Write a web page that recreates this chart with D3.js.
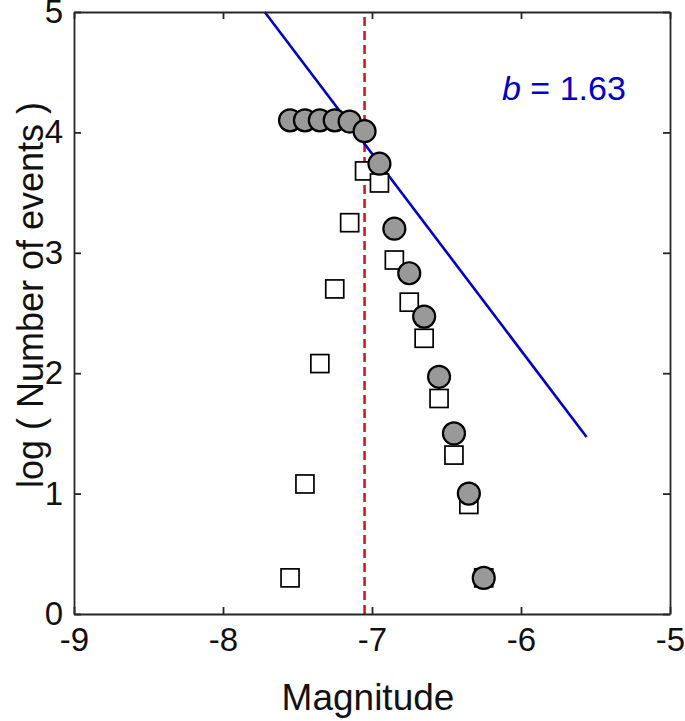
<!DOCTYPE html>
<html>
<head>
<meta charset="utf-8">
<script src="https://cdn.jsdelivr.net/npm/d3@7"></script>
<style>
  body { margin: 0; background: #fff; }
  svg text { font-family: "Liberation Sans", Arial, sans-serif; }
</style>
</head>
<body>
<div class="canvas"></div>
<script>
// magnitude bins
const magnitude = [-7.55, -7.45, -7.35, -7.25, -7.15, -7.05, -6.95, -6.85, -6.75, -6.65, -6.55, -6.45, -6.35, -6.25];
// log of cumulative counts (grey circles)
const cumulativeLog = [4.10, 4.10, 4.10, 4.10, 4.09, 4.01, 3.74, 3.20, 2.83, 2.47, 1.97, 1.50, 1.00, 0.30];
// log of counts per bin (open squares)
const binLog = [0.30, 1.08, 2.08, 2.70, 3.25, 3.68, 3.58, 2.94, 2.59, 2.29, 1.79, 1.32, 0.91, 0.30];
// completeness magnitude (red dashed)
const magComplete = -7.05;
// fitted GR line end points
const fitX = [-7.72, -5.56];
const fitY = [5.0, 1.47];
const bValue = '1.63';

const xTicks = [-9, -8, -7, -6, -5];
const yTicks = [0, 1, 2, 3, 4, 5];

const width = 685, height = 721;
const margin = {top: 12, right: 15, bottom: 107, left: 74};
const graphWidth = width - margin.left - margin.right;
const graphHeight = height - margin.top - margin.bottom;
const axisColour = '#262626';

const svg = d3.select('.canvas')
  .append('svg')
  .attr('width', width)
  .attr('height', height);

const graph = svg.append('g')
  .attr('transform', `translate(${margin.left}, ${margin.top})`);

const x = d3.scaleLinear().domain([-9, -5]).range([0, graphWidth]);
const y = d3.scaleLinear().domain([0, 5]).range([graphHeight, 0]);

// completeness line
graph.append('line')
  .attr('x1', x(magComplete)).attr('x2', x(magComplete))
  .attr('y1', y(0)).attr('y2', y(5))
  .attr('stroke', '#d81818')
  .attr('stroke-width', 2.6)
  .attr('stroke-dasharray', '9,5');

// fit line
graph.append('line')
  .attr('x1', x(fitX[0])).attr('y1', y(fitY[0]))
  .attr('x2', x(fitX[1])).attr('y2', y(fitY[1]))
  .attr('stroke', '#0000c8')
  .attr('stroke-width', 2.6);

const pts = magnitude.map((m, i) => ({m, c: cumulativeLog[i], n: binLog[i]}));

// squares
const sq = 18;
graph.selectAll('rect.bin')
  .data(pts)
  .enter()
  .append('rect')
  .attr('class', 'bin')
  .attr('x', d => x(d.m) - sq / 2)
  .attr('y', d => y(d.n) - sq / 2)
  .attr('width', sq)
  .attr('height', sq)
  .attr('fill', '#fff')
  .attr('stroke', '#000')
  .attr('stroke-width', 1.7);

// circles
graph.selectAll('circle.cum')
  .data(pts)
  .enter()
  .append('circle')
  .attr('class', 'cum')
  .attr('cx', d => x(d.m))
  .attr('cy', d => y(d.c))
  .attr('r', 11)
  .attr('fill', '#999999')
  .attr('stroke', '#000')
  .attr('stroke-width', 2.2);

// axes, ticks inward on all four sides
const tickLen = 7;
const fmt = d => String(d); // plain hyphen minus like the original
const styleAxis = g => {
  g.select('.domain').attr('stroke', axisColour).attr('stroke-width', 1.8);
  g.selectAll('.tick line').attr('stroke', axisColour).attr('stroke-width', 1.8);
  g.selectAll('.tick text')
    .attr('fill', '#111')
    .style('font-size', '33px')
    .style('font-family', '"Liberation Sans", Arial, sans-serif');
};

graph.append('g')
  .attr('transform', `translate(0, ${graphHeight})`)
  .call(d3.axisBottom(x).tickValues(xTicks).tickSize(-tickLen).tickSizeOuter(0).tickPadding(14).tickFormat(fmt))
  .call(styleAxis);

graph.append('g')
  .call(d3.axisTop(x).tickValues(xTicks).tickSize(-tickLen).tickSizeOuter(0).tickFormat(''))
  .call(styleAxis);

graph.append('g')
  .call(d3.axisLeft(y).tickValues(yTicks).tickSize(-tickLen).tickSizeOuter(0).tickPadding(11).tickFormat(fmt))
  .call(styleAxis);

graph.append('g')
  .attr('transform', `translate(${graphWidth}, 0)`)
  .call(d3.axisRight(y).tickValues(yTicks).tickSize(-tickLen).tickSizeOuter(0).tickFormat(''))
  .call(styleAxis);

// axis labels
svg.append('text')
  .attr('x', margin.left + graphWidth / 2 - 4)
  .attr('y', 710)
  .attr('text-anchor', 'middle')
  .attr('fill', '#111')
  .style('font-size', '37px')
  .text('Magnitude');

svg.append('text')
  .attr('transform', 'translate(43, 295) rotate(-90)')
  .attr('text-anchor', 'middle')
  .attr('fill', '#111')
  .style('font-size', '36px')
  .text('log ( Number of events )');

// b-value annotation
const bText = svg.append('text')
  .attr('x', 502)
  .attr('y', 100)
  .attr('fill', '#0000c8')
  .style('font-size', '34px');
bText.append('tspan').style('font-style', 'italic').text('b');
bText.append('tspan').text(` = ${bValue}`);
</script>
</body>
</html>
